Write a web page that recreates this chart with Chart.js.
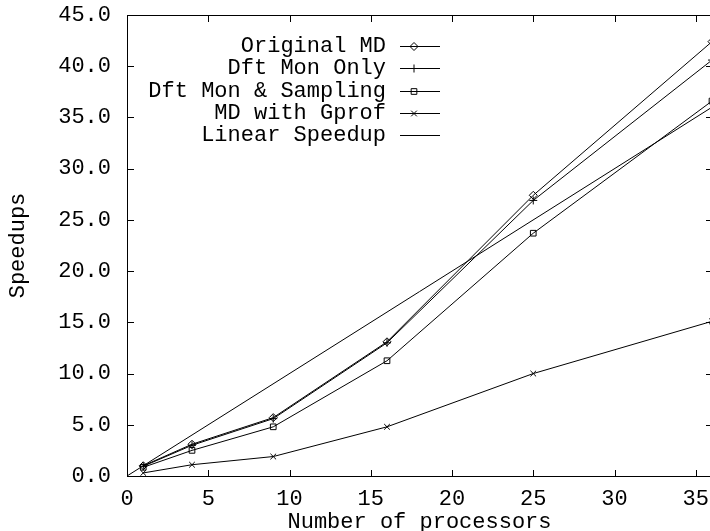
<!DOCTYPE html>
<html>
<head>
<meta charset="utf-8">
<script src="https://cdn.jsdelivr.net/npm/chart.js@4/dist/chart.umd.min.js"></script>
<style>
  html, body { margin: 0; padding: 0; background: #fff; overflow: hidden; }
  #wrap { position: relative; width: 717px; height: 531px; }
  canvas { display: block; position: absolute; left: 0; top: 0; }
  #frameLayer { pointer-events: none; }
</style>
</head>
<body>
<div id="wrap">
  <canvas id="speedupChart" width="717" height="531"></canvas>
  <canvas id="frameLayer" width="717" height="531"></canvas>
</div>
<script>
// processors on the x axis
const procs = [1, 4, 9, 16, 25, 36];

// speedups
const originalMD = [1.0, 3.1, 5.7, 13.1, 27.4, 42.4];
const dftMonOnly = [0.95, 3.0, 5.6, 13.0, 26.9, 40.6];
const dftMonSampling = [0.85, 2.5, 4.8, 11.25, 23.7, 36.6];
const mdGprof = [0.3, 1.1, 1.9, 4.8, 10.0, 15.1];

const linearX = [0, 36];
const linearY = [0, 36];

const seriesLabels = ['Original MD', 'Dft Mon Only', 'Dft Mon & Sampling', 'MD with Gprof', 'Linear Speedup'];
const seriesMarkers = ['rectRot', 'cross', 'rect', 'crossRot', false];

const xTickStep = 5;
const yTickStep = 5;

function toPoints(xv, yv) {
    return xv.map((x, i) => ({ x: x, y: yv[i] }));
}

const FONT = "'Liberation Mono', 'DejaVu Sans Mono', monospace";
Chart.defaults.font.family = FONT;
Chart.defaults.font.size = 22;
Chart.defaults.color = '#000';

const seriesData = [
    toPoints(procs, originalMD),
    toPoints(procs, dftMonOnly),
    toPoints(procs, dftMonSampling),
    toPoints(procs, mdGprof),
    toPoints(linearX, linearY),
];

const datasets = seriesData.map((pts, i) => ({
    label: seriesLabels[i],
    data: pts,
    showLine: true,
    borderColor: '#000',
    borderWidth: 1,
    pointStyle: seriesMarkers[i] || 'circle',
    pointRadius: seriesMarkers[i] ? 4 : 0,
    pointBorderColor: '#000',
    pointBackgroundColor: 'rgba(0,0,0,0)',
    pointBorderWidth: 1,
    tension: 0,
}));

// frame + inward ticks on all four sides, drawn on a separate layer
function drawFrame(chart) {
    const layer = document.getElementById('frameLayer');
    const ctx = layer.getContext('2d');
    ctx.clearRect(0, 0, layer.width, layer.height);
    const a = chart.chartArea;
    const xs = chart.scales.x, ys = chart.scales.y;
    const tick = 6;
    const L = Math.round(a.left), R = Math.round(a.right);
    const T = Math.round(a.top), B = Math.round(a.bottom);
    ctx.fillStyle = '#000';
    ctx.fillRect(L, T, R - L + 1, 1);
    ctx.fillRect(L, B, R - L + 1, 1);
    ctx.fillRect(L, T, 1, B - T + 1);
    ctx.fillRect(R, T, 1, B - T + 1);
    xs.ticks.forEach(t => {
        const px = Math.round(xs.getPixelForValue(t.value));
        ctx.fillRect(px, B - tick, 1, tick);
        ctx.fillRect(px, T + 1, 1, tick);
    });
    ys.ticks.forEach(t => {
        const py = Math.round(ys.getPixelForValue(t.value));
        ctx.fillRect(L + 1, py, tick, 1);
        ctx.fillRect(R - tick, py, tick, 1);
    });
}

// gnuplot style key: label right-aligned, then sample line with marker
function drawKey(chart) {
    const ctx = chart.ctx;
    const textRight = 386;
    const lineL = 400, lineR = 440, markX = 414;
    const rowY = 46, rowGap = 22.3;
    ctx.save();
    ctx.font = '22px ' + FONT;
    ctx.textAlign = 'right';
    ctx.textBaseline = 'middle';
    ctx.strokeStyle = '#000';
    ctx.lineWidth = 1;
    chart.data.datasets.forEach((ds, i) => {
        const y = Math.round(rowY + i * rowGap);
        ctx.fillStyle = '#000';
        ctx.fillText(ds.label, textRight, y);
        ctx.fillRect(lineL, y, lineR - lineL, 1);
        if (seriesMarkers[i]) {
            ctx.fillStyle = 'rgba(0,0,0,0)';
            Chart.helpers.drawPoint(ctx, {
                pointStyle: seriesMarkers[i], radius: 4, borderWidth: 1, rotation: 0
            }, markX, y + 0.5);
        }
    });
    ctx.restore();
}

const gnuplotLook = {
    id: 'gnuplotLook',
    afterDraw(chart) {
        drawKey(chart);
        drawFrame(chart);
    }
};

const chart = new Chart(document.getElementById('speedupChart'), {
    type: 'scatter',
    data: { datasets: datasets },
    options: {
        responsive: false,
        animation: false,
        layout: { padding: { top: 15, right: 2, left: 0, bottom: 0 } },
        plugins: { legend: { display: false }, tooltip: { enabled: false } },
        scales: {
            x: {
                type: 'linear',
                min: 0,
                max: 36,
                grid: { display: false, drawTicks: false },
                border: { display: false },
                ticks: { stepSize: xTickStep, includeBounds: false, padding: 10, maxRotation: 0 },
                title: { display: true, text: 'Number of processors', padding: { top: 0, bottom: -4 } },
                afterFit(scale) {
                    scale.height = 55;
                    scale.paddingLeft = 0;
                    scale.paddingRight = 0;
                }
            },
            y: {
                min: 0,
                max: 45,
                grid: { display: false, drawTicks: false },
                border: { display: false },
                ticks: { stepSize: yTickStep, padding: 16, callback: v => v.toFixed(1) },
                title: { display: true, text: 'Speedups', padding: { top: 5, bottom: 0 } },
                afterFit(scale) {
                    scale.width = 127;
                    scale.paddingTop = 0;
                    scale.paddingBottom = 0;
                }
            }
        }
    },
    plugins: [gnuplotLook]
});
drawFrame(chart);
</script>
</body>
</html>
